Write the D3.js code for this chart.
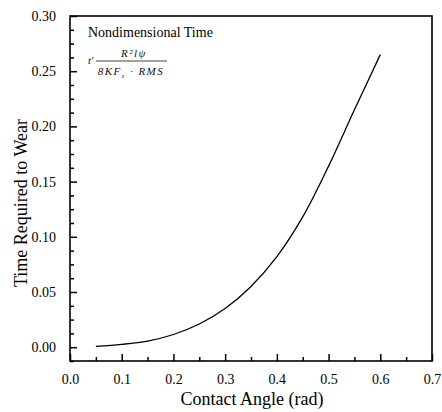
<!DOCTYPE html>
<html>
<head>
<meta charset="utf-8">
<script src="https://cdn.jsdelivr.net/npm/d3@7"></script>
<style>
  body { margin: 0; background: #fff; }
  svg { display: block; font-family: "Liberation Serif", "DejaVu Serif", serif; }
</style>
</head>
<body>
<div id="chart"></div>
<script>
// Contact angle (rad) vs nondimensional time required to wear
const angles = [0.05, 0.10, 0.15, 0.20, 0.25, 0.30, 0.35, 0.40, 0.45, 0.50, 0.55, 0.60];
const wearTime = [0.0008, 0.0025, 0.0055, 0.0115, 0.021, 0.035, 0.055, 0.082, 0.118, 0.164, 0.215, 0.265];

const xTicks = [0, 0.1, 0.2, 0.3, 0.4, 0.5, 0.6, 0.7];
const xMinor = [0.05, 0.15, 0.25, 0.35, 0.45, 0.55, 0.65];
const yTicks = [0, 0.05, 0.10, 0.15, 0.20, 0.25, 0.30];
const yMinor = [-0.0125, 0.0125, 0.025, 0.0375, 0.0625, 0.075, 0.0875, 0.1125, 0.125, 0.1375,
  0.1625, 0.175, 0.1875, 0.2125, 0.225, 0.2375, 0.2625, 0.275, 0.2875];

const W = 442, H = 412;
const m = { top: 16, right: 10, bottom: 51, left: 70 };
const innerW = W - m.left - m.right;
const innerH = H - m.top - m.bottom;

const svg = d3.select('#chart').append('svg').attr('width', W).attr('height', H);
const g = svg.append('g').attr('transform', `translate(${m.left},${m.top})`);

const x = d3.scaleLinear().domain([0, 0.7]).range([0, innerW]);
const y = d3.scaleLinear().domain([-0.0125, 0.30]).range([innerH, 0]);

// Inward ticks, Origin style
g.append('g').attr('transform', `translate(0,${innerH})`)
  .call(d3.axisBottom(x).tickValues(xTicks).tickSize(-7).tickPadding(13).tickFormat(d3.format('.1f')));
g.append('g').attr('transform', `translate(0,${innerH})`)
  .call(d3.axisBottom(x).tickValues(xMinor).tickSize(-4).tickFormat(''));

g.append('g')
  .call(d3.axisLeft(y).tickValues(yTicks).tickSize(-7).tickPadding(14).tickFormat(d3.format('.2f')));
g.append('g')
  .call(d3.axisLeft(y).tickValues(yMinor).tickSize(-4).tickFormat(''));

g.selectAll('.domain').remove();
g.selectAll('.tick line').attr('stroke', '#000').attr('stroke-width', 1.5);
g.selectAll('.tick text').attr('fill', '#000').style('font-size', '14px')
  .style('font-family', '"Liberation Serif", serif');

// frame
g.append('rect').attr('width', innerW).attr('height', innerH)
  .attr('fill', 'none').attr('stroke', '#000').attr('stroke-width', 1.6);

// curve
const pts = angles.map((a, i) => [a, wearTime[i]]);
g.append('path').datum(pts)
  .attr('fill', 'none').attr('stroke', '#000').attr('stroke-width', 1.3)
  .attr('d', d3.line().x(d => x(d[0])).y(d => y(d[1])).curve(d3.curveCatmullRom.alpha(0.5)));

// axis titles
svg.append('text').attr('x', m.left + innerW / 2 + 1).attr('y', 405)
  .attr('text-anchor', 'middle').style('font-size', '18px').attr('fill', '#000')
  .text('Contact Angle (rad)');
svg.append('text').attr('transform', 'translate(27,203) rotate(-90)')
  .attr('text-anchor', 'middle').style('font-size', '18px').attr('fill', '#000')
  .text('Time Required to Wear');

// annotation
svg.append('text').attr('x', 88).attr('y', 37).style('font-size', '14px').attr('fill', '#000')
  .text('Nondimensional Time');
const f = svg.append('g').style('font-style', 'italic').attr('fill', '#111').style('font-size', '11px');
f.append('text').attr('x', 88).attr('y', 64).text("t'");
f.append('text').attr('x', 134).attr('y', 57).attr('text-anchor', 'middle')
  .style('letter-spacing', '1.5px').text('R²lψ');
f.append('line').attr('x1', 96).attr('x2', 167).attr('y1', 61).attr('y2', 61)
  .attr('stroke', '#111').attr('stroke-width', 0.8);
const den = f.append('text').attr('x', 131).attr('y', 75).attr('text-anchor', 'middle')
  .style('letter-spacing', '1.5px');
den.append('tspan').text('8KF');
den.append('tspan').attr('dy', 3).style('font-size', '6px').text('s');
den.append('tspan').attr('dy', -3).text(' · RMS');
</script>
</body>
</html>
